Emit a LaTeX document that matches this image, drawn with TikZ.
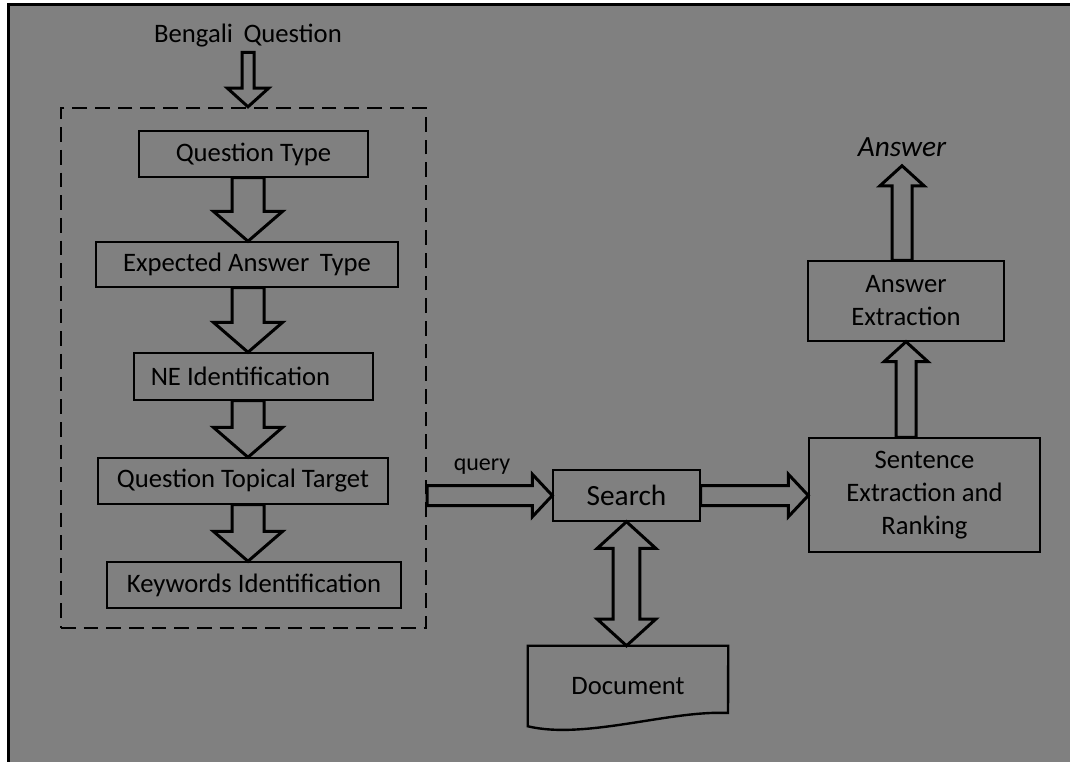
\documentclass[tikz,border=0pt]{standalone}
\usepackage{fontspec}
\setmainfont{Carlito}
\usetikzlibrary{calc}
\definecolor{bggray}{RGB}{128,128,128}
\tikzset{
	stepbox/.style={draw,line width=1.1pt,inner sep=0pt,align=center,font=\fontsize{20}{24.75}\selectfont},
	boxsize/.style 2 args={minimum width=#1*0.75pt,minimum height=#2*0.75pt},
	blockarrow/.style n args={3}{draw,line width=2.25pt,to path={
		($(\tikztostart)!#1!90:(\tikztotarget)$)
		-- ($(\tikztotarget)!#3!(\tikztostart)!#1!-90:(\tikztostart)$)
		-- ($(\tikztotarget)!#3!(\tikztostart)!#2!-90:(\tikztostart)$)
		-- (\tikztotarget)
		-- ($(\tikztotarget)!#3!(\tikztostart)!#2!90:(\tikztostart)$)
		-- ($(\tikztotarget)!#3!(\tikztostart)!#1!90:(\tikztostart)$)
		-- ($(\tikztostart)!#1!-90:(\tikztotarget)$) -- cycle}},
	dblarrow/.style n args={3}{draw,line width=2.25pt,to path={
		(\tikztostart)
		-- ($(\tikztostart)!#3!(\tikztotarget)!#2!90:(\tikztotarget)$)
		-- ($(\tikztostart)!#3!(\tikztotarget)!#1!90:(\tikztotarget)$)
		-- ($(\tikztotarget)!#3!(\tikztostart)!#1!-90:(\tikztostart)$)
		-- ($(\tikztotarget)!#3!(\tikztostart)!#2!-90:(\tikztostart)$)
		-- (\tikztotarget)
		-- ($(\tikztotarget)!#3!(\tikztostart)!#2!90:(\tikztostart)$)
		-- ($(\tikztotarget)!#3!(\tikztostart)!#1!90:(\tikztostart)$)
		-- ($(\tikztostart)!#3!(\tikztotarget)!#1!-90:(\tikztotarget)$)
		-- ($(\tikztostart)!#3!(\tikztotarget)!#2!-90:(\tikztotarget)$) -- cycle}}
}
\begin{document}
\begin{tikzpicture}[x=0.75pt,y=-0.75pt]
		\useasboundingbox (0,0) rectangle (1070,762);
		\fill[bggray](7,3) rectangle (1070,762);
		\draw[line width=2.25pt](7,4.5)--(1070,4.5);
		\draw[line width=2.25pt](8.5,3)--(8.5,762);
		
		\coordinate (ax) at (248,0);
		\node[font=\fontsize{20}{24}\selectfont] (bq) at (248,36) {Bengali\, Question};
		\node[draw][line width=1.8pt,dash pattern=on 11pt off 6pt][boxsize={365}{520}] (qa) at (243.5,368) {};
		
		\node[stepbox][boxsize={229}{46}] (q1) at (253.5,154) {Question Type};
		\node[stepbox][boxsize={302}{45}] (q2) at (247,264.5) {Expected Answer\, Type};
		\node[stepbox][boxsize={239}{47}] (q3) at (253.5,376.5) {NE Identification\hspace{19.5pt}};
		\node[stepbox][boxsize={290}{46}] (q4) at (243,481) {Question Topical Target};
		\node[stepbox][boxsize={294}{46}] (q5) at (254,585) {Keywords Identification};
		
		\node[stepbox][boxsize={147}{51}][font=\fontsize{22}{26}\selectfont] (srch) at (626.5,495.5) {Search};
		\node[stepbox][boxsize={231}{114}] (sent) at (924.5,495) {Sentence\\Extraction and\\Ranking};
		\node[stepbox][boxsize={196}{80}] (ansx) at (906,301) {Answer\\Extraction};
		\node[inner sep=0pt][font=\fontsize{22}{26}\selectfont\itshape] (ans) at (902,147) {Answer};
		\node[font=\fontsize{18}{22}\selectfont] (qry) at (482,467) {query};
		
		\node[boxsize={200}{80}][font=\fontsize{20}{24}\selectfont] (doc) at (628,686) {Document};
		\draw[line width=1.8pt](doc.south west)--(doc.north west)--(doc.north east)--(728,713)
		.. controls (670,710) and (585,740) .. cycle;
		
		\draw[blockarrow={4.5pt}{15.5pt}{14pt}](bq.south)to(qa.north -| bq);
		\draw[blockarrow={12pt}{26pt}{22.5pt}](q1.south -| ax)to(q2.north -| ax);
		\draw[blockarrow={12pt}{26pt}{22.5pt}](q2.south -| ax)to(q3.north -| ax);
		\draw[blockarrow={12pt}{26pt}{22.5pt}](q3.south -| ax)to(q4.north -| ax);
		\draw[blockarrow={12pt}{26pt}{22.5pt}](q4.south -| ax)to(q5.north -| ax);
		
		\draw[blockarrow={7.5pt}{16pt}{15pt}](qa.east |- srch.west)to(srch.west);
		\draw[blockarrow={7.5pt}{16pt}{15pt}](srch.east)to(sent.west |- srch.east);
		\draw[blockarrow={7.5pt}{16.5pt}{15pt}](sent.north -| ansx)to(ansx.south);
		\draw[blockarrow={7.5pt}{16.5pt}{15pt}](ansx.north -| ans)to($(ans.south)+(0,9)$);
		\draw[dblarrow={10pt}{22pt}{20pt}](srch.south)to(srch.south |- doc.north);
	\end{tikzpicture}
\end{document}
